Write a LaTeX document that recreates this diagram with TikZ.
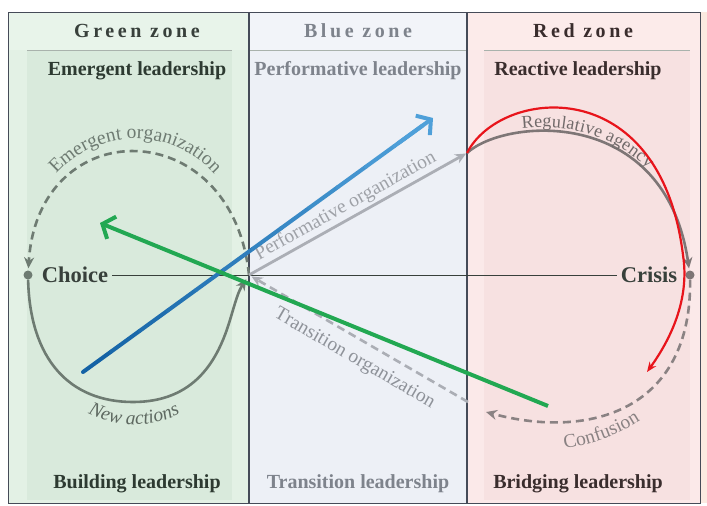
\documentclass[tikz,border=0pt]{standalone}
\usepackage{fontspec}
\setmainfont{Liberation Serif}
\usetikzlibrary{arrows.meta,calc,decorations.text}

\definecolor{greenfill}{HTML}{D9EADC}
\definecolor{greenside}{HTML}{E3F1E5}
\definecolor{greenhead}{HTML}{E8F4EA}
\definecolor{bluefill}{HTML}{EDF0F6}
\definecolor{bluehead}{HTML}{F2F4F9}
\definecolor{redfill}{HTML}{F7E1E1}
\definecolor{redside}{HTML}{FBE9E9}
\definecolor{redhead}{HTML}{FCEBEA}
\definecolor{peach}{HTML}{FBEAE0}
\definecolor{framegray}{HTML}{454B58}
\definecolor{headrule}{HTML}{A9B2AC}
\definecolor{loopgray}{HTML}{6E7B72}
\definecolor{redgray}{HTML}{7E7676}
\definecolor{confgray}{HTML}{8A8283}
\definecolor{paleline}{HTML}{ABAEB5}
\definecolor{paletext}{HTML}{8E9299}
\definecolor{greentext}{HTML}{2D3A31}
\definecolor{redtext}{HTML}{3A2D2D}
\definecolor{bluetext}{HTML}{7E838C}
\definecolor{darktext}{HTML}{38403B}
\definecolor{bluedark}{HTML}{1462A5}
\definecolor{bluelight}{HTML}{4FA0D9}
\definecolor{arrowgreen}{HTML}{22A852}
\definecolor{arrowred}{HTML}{E8141B}

\newcommand\labelsize{\fontsize{19.5}{20}\selectfont}

\begin{document}
\begin{tikzpicture}[x=1pt,y=-1pt,
    zonetitle/.style={font=\fontsize{20}{22}\selectfont\bfseries\addfontfeature{LetterSpace=18}},
    lead/.style={font=\fontsize{20}{22}\selectfont\bfseries},
    pole/.style={font=\fontsize{22.5}{24}\selectfont\bfseries,text=darktext,inner sep=4pt},
    poledot/.style={circle,fill=#1,inner sep=0pt,minimum size=9pt},
    solidloop/.style={draw=#1,line width=2.6pt},
    dashloop/.style={draw=#1,line width=2.6pt,dash pattern=on 8pt off 5pt},
    grayhead/.style={-{Stealth[length=11pt,width=10pt]}},
    bigarrow/.style={line width=4pt,-{Straight Barb[length=10pt,width=24pt]}},
]
\useasboundingbox (0,0) rectangle (707,506);

% zones
\fill[white] (0,0) rectangle (707,506);
\fill[peach] (700,12) rectangle (707,503);
\fill[greenside] (8,12) rectangle (249,503);
\fill[greenfill] (27,50) rectangle (232,500);
\fill[greenhead] (8,12) rectangle (249,50);
\fill[bluefill] (249,50) rectangle (467,503);
\fill[bluehead] (249,12) rectangle (467,50);
\fill[redside] (467,12) rectangle (700,503);
\fill[redfill] (484,50) rectangle (690,500);
\fill[redhead] (467,12) rectangle (700,50);
\draw[headrule] (27,50) -- (232,50);
\draw[headrule] (249,50) -- (467,50);
\draw[headrule] (484,50) -- (690,50);
\draw[framegray,line width=0.8pt] (8,12) rectangle (700,503);
\draw[framegray,line width=1.2pt] (249,12) -- (249,503);
\draw[framegray,line width=1.2pt] (467,12) -- (467,503);

\node[zonetitle,text=darktext]  (greenzone) at (137,31) {Green zone};
\node[zonetitle,text=bluetext]  (bluezone)  at (358,31) {Blue zone};
\node[zonetitle,text=redtext]   (redzone)   at (583,31) {Red zone};

\node[lead,text=greentext] (emergent)     at (137,71)  {Emergent leadership};
\node[lead,text=bluetext]  (performative) at (358,71)  {Performative leadership};
\node[lead,text=redtext]   (reactive)     at (578,71)  {Reactive leadership};
\node[lead,text=greentext] (building)     at (137,484) {Building leadership};
\node[lead,text=bluetext]  (transition)   at (358,484) {Transition leadership};
\node[lead,text=redtext]   (bridging)     at (578,484) {Bridging leadership};

% poles and axis
\node[poledot=loopgray] (choicedot) at (28,275) {};
\node[poledot=redgray]  (crisisdot) at (690,275) {};
\node[pole] (choice) at (75,275) {Choice};
\node[pole] (crisis) at (649,275) {Crisis};
\coordinate (hub)        at (249,275);
\coordinate (redstart)   at (467,153);
\coordinate (transstart) at (468,402);
\coordinate (confend)    at (486,412);
\draw[darktext,line width=1pt] (choice.east) -- (crisis.west);

% green loop
\draw[dashloop=loopgray,grayhead,shorten >=2pt] (hub) .. controls (232,112) and (38,112) .. (choicedot);
\draw[solidloop=loopgray,grayhead,shorten >=5pt] (choicedot) .. controls (30,360) and (70,402) .. (133,402)
    .. controls (195,402) and (218,360) .. (230,320) .. controls (236,300) and (238,292) .. (hub);
\path[decorate,decoration={text along path,text align=center,
    text={|\labelsize\color{loopgray}|Emergent organization}}]
    (22,270) .. controls (26,95) and (244,95) .. (249,270);
\path[decorate,decoration={text along path,text align=center,
    text={|\labelsize\itshape\color{loopgray!85!black}|New actions}}]
    (70,402) .. controls (110,432) and (160,432) .. (198,402);

% blue zone
\draw[paleline,line width=2.8pt,grayhead,shorten >=1pt] (hub) -- (redstart);
\path[decorate,decoration={text along path,raise=8pt,text align={left indent=16pt},
    text={|\labelsize\color{paletext!85!white}|Performative organization}}] (hub) -- (redstart);
\draw[dashloop=paleline,grayhead,shorten >=3pt] (transstart) -- (hub);
\path[decorate,decoration={text along path,raise=-24pt,text align={left indent=42pt},
    text={|\labelsize\color{paletext}|Transition organization}}] (hub) -- (transstart);

% red loop
\draw[solidloop=redgray,grayhead,shorten >=2pt] (redstart) .. controls (505,118) and (665,105) .. (crisisdot);
\path[decorate,decoration={text along path,raise=4pt,text align={left indent=60pt},
    text={|\fontsize{18}{18}\selectfont\color{redgray!90!black}|Regulative agency}}]
    (redstart) .. controls (505,118) and (665,105) .. (690,270);
\draw[dashloop=confgray,grayhead] (crisisdot) .. controls (692,410) and (590,440) .. (confend);
\path[decorate,decoration={text along path,text align=center,
    text={|\labelsize\color{confgray}|Confusion}}]
    (548,450) .. controls (585,448) and (622,436) .. (654,411);

% crossing arrows
\coordinate (bluestart)  at (83,372);
\coordinate (blueend)    at (433,118);
\coordinate (greenstart) at (548,406);
\coordinate (greenend)   at (100,223);
\foreach \i in {0,...,11}{
  \pgfmathsetmacro\segA{0.97*\i/12}
  \pgfmathsetmacro\segB{0.97*(\i+1)/12}
  \pgfmathtruncatemacro\mixpct{100-\i*9}
  \draw[line width=4pt,line cap=round,bluedark!\mixpct!bluelight]
    ($(bluestart)!\segA!(blueend)$) -- ($(bluestart)!\segB!(blueend)$);
}
\draw[bigarrow,bluelight] ($(bluestart)!0.9!(blueend)$) -- (blueend);
\draw[bigarrow,arrowgreen] (greenstart) -- (greenend);

\draw[arrowred,line width=2.2pt,-{Stealth[length=10pt,width=8pt]}] (redstart)
    .. controls (500,88) and (660,70) .. (683,255) .. controls (690,300) and (670,340) .. (647,372);
\end{tikzpicture}
\end{document}
